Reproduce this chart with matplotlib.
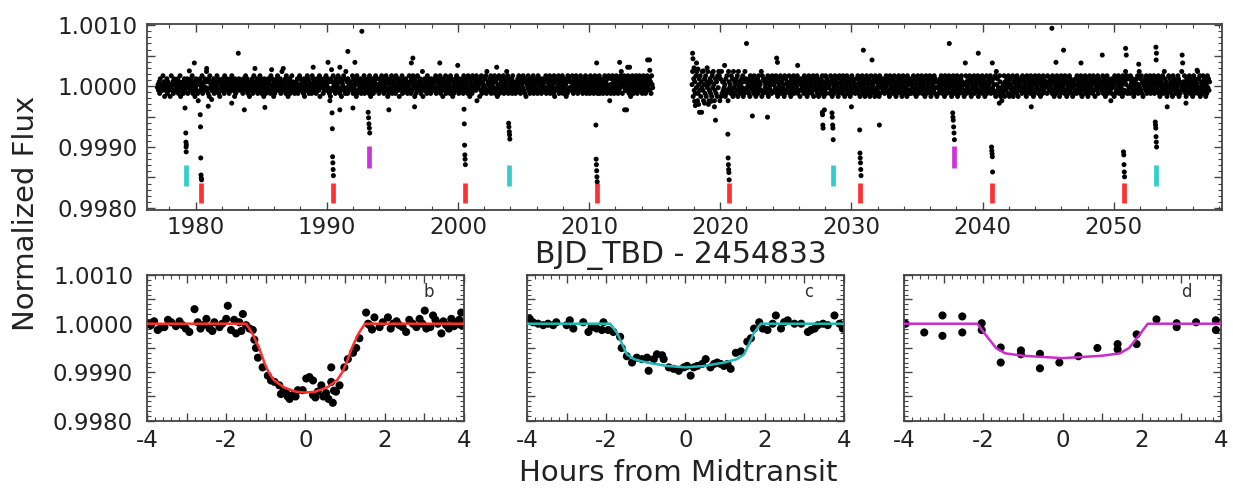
import numpy as np
import matplotlib
matplotlib.use("Agg")
import matplotlib.pyplot as plt
from matplotlib.ticker import MultipleLocator, FuncFormatter

plt.rcParams['font.family'] = ['DejaVu Sans']
plt.rcParams['axes.unicode_minus'] = False

# ---------------- K2 light curve, time in BJD_TBD - 2454833 ----------------
SEG1_SPAN = (1977.10, 2014.85)
SEG2_SPAN = (2017.85, 2057.30)
# flux deviation (relative to 1.0) for each code digit 0..9
CODE_DEV = [-0.00024, -0.00017, -0.00012, -0.00007, -0.000025,
            0.000025, 0.00007, 0.00012, 0.00017, 0.00024]

SEG1_CODES = (
    "45362745538461534726354148356273645537264815346257"
    "36457254634758263514736205573648254376493627184563"
    "54726354837261543675428365743625473856341725463574"
    "63545273648537264156347258364537265483726451736254"
    "47365283745162537486354726935463728451637254836452"
    "35647253847365427163548372654328574635274653817465"
    "52736485374620173648356274538462731654837294627354"
    "64538274635182736457253648275346372851463725648375"
    "45273658437265483716254738264537285463716453827465"
    "37462548362735846172538465372649153746528374652734"
    "56374826354738264517364825374652837416253748365274"
    "43657284736542837165428374653807465173826453748293"
    "65374826537482637154827364538274659382746537284653"
    "24637584726354837261754836275463827546372865437264"
    "57364827365482736452817364758263745826374516283746"
    "36485273648572635487362547386254736285473625847362"
    "45827364527384652738405273846257384627354896275843"
    "63748526317485263748527638465723846527384657362854"
)
SEG2_CODES = (
    "59173628490257381649305728164950372618495037261849"
    "80719263645172830964528371946257381946253748162937"
    "46352718465372846153728465391827364537281645372865"
    "53748261735482637451827365438261754382673548263715"
    "37465283746152837465238174653827146537284615382746"
    "64528371654283765412837654283716548237651428376542"
    "45738264157382645173826457138264537182643751826457"
    "35627485362718453627485316274853627148536274185362"
    "72546382745163827456382746513827465382174653827461"
    "46253748625371846253784625173846253781462537846251"
    "53826475382617453826475381627453826471538264573826"
    "64735281957342861403258164375286147532816437528614"
    "37564283746521837465283746152837645283716452837465"
    "52846374652837164528374615283746528371645283746512"
    "46375283746528317465283746152837465283716453827465"
    "65382746153827465302746518273645827364518273695827"
    "34728564731256473825947382615647382564738265473826"
    "57463825176438259746312584736251847362534871625394"
    "46385217463582746315827463592748163528473615284736"
)

# individually placed cadences: outliers, post-gap settling and in-transit points
extra_time = [
    1979.53, 1979.91, 1980.85, 1983.26, 1984.53, 1985.80, 1986.69, 1988.97, 1990.10,
    1990.37, 1991.00, 1991.61, 1992.15, 1992.68, 1996.57, 1996.45, 1998.62, 1999.99,
    2002.96, 2010.58, 2012.33, 2012.94, 2013.09, 2014.46, 2014.61, 2014.63, 2017.89,
    2018.19, 2020.33, 2022.00, 2024.30, 2024.36, 2025.90, 2030.91, 2031.57, 2037.46,
    2038.68, 2039.67, 2040.74, 2045.28, 2045.59, 2046.17, 2047.50, 2049.12, 2050.90,
    2050.95, 2051.90, 2053.21, 2053.25, 2053.23, 2055.21, 2055.25, 2056.35,
    1979.20, 1980.97, 1981.23, 1982.76, 1983.72, 1985.29, 1991.00, 1992.00, 1994.74,
    1996.70, 2012.71, 2012.86, 2018.42, 2018.58, 2019.56, 2019.64, 2022.45, 2023.60,
    2027.94, 2030.00, 2032.13, 2041.27, 2043.71, 2054.07, 2055.50,
    2017.92, 2018.00, 2018.05, 2018.10, 2018.30, 2018.35, 2018.70, 2018.80, 2019.00,
    2019.10, 2019.30, 2019.40,
    1979.26, 1979.27, 1979.28, 1979.29, 1979.30,
    1980.36, 1980.38, 1980.40, 1980.42, 1980.44, 1980.46,
    1990.41, 1990.43, 1990.45, 1990.47, 1990.49, 1990.51,
    1993.16, 1993.19, 1993.22, 1993.25, 1993.28,
    2000.47, 2000.49, 2000.51, 2000.53, 2000.55, 2000.57,
    2003.87, 2003.89, 2003.92, 2003.94, 2003.96,
    2010.52, 2010.54, 2010.56, 2010.58, 2010.60, 2010.62,
    2020.58, 2020.60, 2020.62, 2020.64, 2020.66, 2020.68,
    2028.52, 2028.54, 2028.57, 2028.59, 2028.61,
    2027.78, 2027.80, 2027.82, 2027.84,
    2030.63, 2030.65, 2030.67, 2030.69, 2030.71, 2030.73,
    2037.72, 2037.74, 2037.76, 2037.79, 2037.82, 2037.85,
    2040.68, 2040.70, 2040.72, 2040.74, 2040.76,
    2050.74, 2050.76, 2050.78, 2050.80, 2050.82,
    2053.16, 2053.18, 2053.20, 2053.22, 2053.24, 2053.26,
]
extra_flux = [
    1.00025, 1.00038, 1.00029, 1.00054, 1.00029, 1.00027, 1.00029, 1.00031, 1.00039,
    1.00027, 1.00031, 1.00057, 1.00039, 1.00090, 1.00046, 1.00038, 1.00038, 1.00034,
    1.00031, 1.00038, 1.00039, 1.00031, 1.00031, 1.00043, 1.00043, 1.00026, 1.00054,
    1.00038, 1.00034, 1.00070, 1.00046, 1.00039, 1.00034, 1.00059, 1.00043, 1.00070,
    1.00038, 1.00054, 1.00038, 1.00095, 1.00039, 1.00059, 1.00038, 1.00051, 1.00062,
    1.00051, 1.00036, 1.00064, 1.00054, 1.00043, 1.00051, 1.00038, 1.00026,
    0.99964, 0.99967, 0.99978, 0.99972, 0.99961, 0.99965, 0.99961, 0.99964, 0.99961,
    0.99966, 0.99961, 0.99961, 0.99957, 0.99957, 0.99966, 0.99944, 0.99951, 0.99949,
    0.99961, 0.99966, 0.99936, 0.99972, 0.99966, 0.99966, 0.99972,
    1.00045, 1.00030, 0.99975, 0.99968, 1.00028, 0.99970, 1.00025, 0.99972, 1.00030,
    0.99970, 0.99975, 1.00022,
    0.99923, 0.99908, 0.99900, 0.99892, 0.99904,
    0.99953, 0.99933, 0.99882, 0.99854, 0.99849, 0.99846,
    0.99956, 0.99930, 0.99884, 0.99874, 0.99863, 0.99853,
    0.99957, 0.99948, 0.99938, 0.99931, 0.99923,
    0.99962, 0.99938, 0.99903, 0.99887, 0.99880, 0.99871,
    0.99939, 0.99933, 0.99925, 0.99920, 0.99913,
    0.99936, 0.99880, 0.99871, 0.99861, 0.99851, 0.99843,
    0.99921, 0.99882, 0.99871, 0.99863, 0.99858, 0.99846,
    0.99956, 0.99949, 0.99936, 0.99931, 0.99912,
    0.99957, 0.99953, 0.99936, 0.99931,
    0.99928, 0.99890, 0.99882, 0.99874, 0.99863, 0.99853,
    0.99956, 0.99949, 0.99944, 0.99933, 0.99923, 0.99912,
    0.99900, 0.99894, 0.99889, 0.99884, 0.99859,
    0.99892, 0.99887, 0.99871, 0.99859, 0.99851,
    0.99941, 0.99936, 0.99931, 0.99917, 0.99908, 0.99900,
]

# transit epochs of planets b, c, d and the flux range of their marker bars
epochs_b = [1980.42, 1990.47, 2000.53, 2010.58, 2020.64, 2030.69, 2040.74, 2050.80]
epochs_c = [1979.28, 2003.92, 2028.57, 2053.21]
epochs_d = [1993.22, 2037.79]
bar_b = (0.99808, 0.99841)
bar_c = (0.99836, 0.99871)
bar_d = (0.99865, 0.99901)

# ---------------- phase-folded transits (hours from midtransit) ----------------
b_hours = [-3.98, -3.90, -3.82, -3.73, -3.65, -3.56, -3.47, -3.39, -3.27, -3.18, -3.10,
           -3.02, -2.93, -2.80, -2.72, -2.65, -2.59, -2.50, -2.42, -2.35, -2.30, -2.17,
           -2.10, -2.00, -1.96, -1.88, -1.80, -1.75, -1.67, -1.62, -1.58, -1.50, -1.41,
           -1.33, -1.29, -1.25, -1.20, -1.08, -0.95, -0.87, -0.78, -0.66, -0.62, -0.55,
           -0.49, -0.45, -0.40, -0.32, -0.25, -0.19, -0.07, 0.02, 0.10, 0.19, 0.19, 0.25,
           0.31, 0.40, 0.45, 0.52, 0.58, 0.65, 0.65, 0.69, 0.72, 0.77, 0.86, 0.98, 1.07,
           1.20, 1.28, 1.36, 1.53, 1.58, 1.62, 1.68, 1.74, 1.87, 1.95, 2.08, 2.15, 2.21,
           2.30, 2.37, 2.45, 2.54, 2.62, 2.71, 2.80, 2.88, 2.95, 3.01, 3.05, 3.15, 3.22,
           3.28, 3.34, 3.43, 3.48, 3.55, 3.62, 3.68, 3.75, 3.80, 3.88, 3.93, 3.93]
b_flux = [1.00000, 0.99997, 1.00005, 0.99987, 0.99992, 0.99993, 1.00008, 1.00003, 0.99995,
          1.00005, 0.99997, 0.99990, 0.99983, 1.00030, 1.00003, 0.99990, 0.99997, 1.00010,
          0.99990, 0.99985, 1.00003, 0.99993, 1.00000, 1.00010, 1.00037, 0.99987, 1.00008,
          0.99980, 1.00003, 0.99985, 1.00020, 0.99997, 0.99990, 0.99987, 0.99967, 0.99950,
          0.99930, 0.99910, 0.99893, 0.99883, 0.99880, 0.99873, 0.99855, 0.99862, 0.99857,
          0.99850, 0.99845, 0.99853, 0.99850, 0.99863, 0.99863, 0.99887, 0.99890, 0.99883,
          0.99853, 0.99848, 0.99860, 0.99873, 0.99850, 0.99857, 0.99845, 0.99910, 0.99880,
          0.99837, 0.99862, 0.99860, 0.99873, 0.99910, 0.99927, 0.99940, 0.99950, 0.99970,
          1.00023, 1.00000, 0.99997, 0.99988, 1.00013, 0.99993, 1.00003, 1.00013, 0.99990,
          1.00000, 1.00005, 0.99997, 0.99993, 0.99983, 1.00008, 1.00000, 0.99993, 1.00010,
          1.00000, 1.00027, 0.99990, 0.99993, 1.00017, 1.00008, 1.00000, 0.99980, 1.00005,
          0.99997, 0.99990, 1.00010, 0.99995, 1.00003, 1.00008, 1.00023, 0.99997]
b_model_hours = [-4.0, -1.50, -1.34, -1.17, -1.03, -0.93, -0.80, -0.55, -0.25, 0.0,
                 0.25, 0.55, 0.80, 0.93, 1.03, 1.17, 1.34, 1.50, 4.0]
b_model_flux = [1.0, 1.0, 0.99980, 0.99950, 0.99918, 0.99900, 0.99884, 0.99869, 0.99860,
                0.99858, 0.99860, 0.99869, 0.99884, 0.99900, 0.99918, 0.99950, 0.99980,
                1.0, 1.0]

c_hours = [-3.93, -3.85, -3.72, -3.59, -3.47, -3.34, -3.26, -3.00, -2.92, -2.83, -2.58,
           -2.45, -2.37, -2.24, -2.11, -2.07, -1.95, -1.82, -1.65, -1.61, -1.48, -1.35,
           -1.23, -1.10, -0.97, -0.93, -0.80, -0.72, -0.59, -0.55, -0.42, -0.30, -0.17,
           -0.04, 0.04, 0.13, 0.21, 0.30, 0.42, 0.51, 0.63, 0.72, 0.80, 0.89, 0.97, 1.06,
           1.14, 1.27, 1.40, 1.56, 1.65, 1.73, 1.86, 1.95, 2.07, 2.20, 2.28, 2.41, 2.49,
           2.58, 2.75, 2.92, 3.09, 3.17, 3.26, 3.34, 3.47, 3.59, 3.76, 3.89, 3.97]
c_flux = [1.00010, 1.00003, 1.00000, 0.99997, 1.00000, 0.99997, 1.00003, 0.99997, 1.00007,
          0.99990, 1.00003, 0.99983, 0.99993, 0.99990, 0.99987, 1.00003, 0.99987, 0.99983,
          0.99973, 0.99950, 0.99933, 0.99920, 0.99930, 0.99927, 0.99930, 0.99903, 0.99927,
          0.99937, 0.99935, 0.99927, 0.99910, 0.99907, 0.99903, 0.99910, 0.99913, 0.99893,
          0.99910, 0.99913, 0.99917, 0.99927, 0.99910, 0.99917, 0.99920, 0.99917, 0.99913,
          0.99917, 0.99907, 0.99940, 0.99943, 0.99963, 0.99970, 0.99990, 1.00003, 0.99990,
          0.99987, 1.00000, 1.00017, 0.99990, 1.00003, 1.00007, 1.00000, 1.00000, 0.99983,
          0.99987, 0.99990, 0.99997, 1.00000, 0.99997, 1.00017, 1.00000, 0.99990]
c_model_hours = [-4.0, -1.90, -1.72, -1.60, -1.48, -1.30, -0.98, -0.47, 0.0,
                 0.47, 0.98, 1.30, 1.48, 1.60, 1.72, 1.90, 4.0]
c_model_flux = [1.0, 1.0, 0.99980, 0.99958, 0.99937, 0.99927, 0.99920, 0.99913, 0.99910,
                0.99913, 0.99920, 0.99927, 0.99937, 0.99958, 0.99980, 1.0, 1.0]

d_hours = [-3.96, -3.49, -3.03, -3.03, -2.53, -2.53, -2.04, -2.04, -1.56, -1.56, -1.05,
           -1.05, -0.57, -0.57, -0.08, 0.40, 0.88, 1.39, 1.39, 1.87, 1.87, 2.37, 2.88,
           2.88, 3.37, 3.87, 3.87]
d_flux = [1.00000, 0.99982, 1.00017, 0.99975, 1.00015, 0.99982, 1.00001, 0.99987, 0.99951,
          0.99920, 0.99945, 0.99937, 0.99938, 0.99908, 0.99920, 0.99933, 0.99950, 0.99958,
          0.99947, 0.99978, 0.99958, 1.00009, 1.00001, 0.99993, 1.00003, 1.00007, 0.99987]
d_model_hours = [-4.0, -2.15, -1.94, -1.68, -1.45, -1.00, 0.0, 1.00, 1.45, 1.68, 1.94,
                 2.15, 4.0]
d_model_flux = [1.0, 1.0, 0.99977, 0.99950, 0.99939, 0.99934, 0.99929, 0.99934, 0.99939,
                0.99950, 0.99977, 1.0, 1.0]

RED = '#ff3030'
CYAN = '#33cccc'
CYAN_LINE = '#22b8b8'
MAGENTA = '#cc33dd'
FRAME = '#444444'
TEXT = '#222222'


def decode(codes, span):
    flux = 1.0 + np.array([CODE_DEV[int(c)] for c in codes])
    time = np.linspace(span[0], span[1], len(flux))
    return time, flux


def style_axes(ax, label_pad):
    for sp in ax.spines.values():
        sp.set_color(FRAME)
        sp.set_linewidth(1.3)
    ax.tick_params(which='both', direction='in', top=True, right=True,
                   color=FRAME, labelcolor=TEXT, labelsize=16.5)
    ax.tick_params(which='major', length=6, width=1.0, pad=label_pad)
    ax.tick_params(which='minor', length=3, width=0.8)


def flux_fmt(v, pos):
    k = v / 0.001
    return f"{v:.4f}" if abs(k - round(k)) < 1e-6 else ""


def hour_fmt(v, pos):
    return f"{int(round(v))}" if abs(v / 2 - round(v / 2)) < 1e-6 else ""


fig = plt.figure(figsize=(12.33, 4.91), dpi=100)

# ---- full light curve ----
ax = fig.add_axes([0.1192, 0.5723, 0.8719, 0.3788])
t1, f1 = decode(SEG1_CODES, SEG1_SPAN)
t2, f2 = decode(SEG2_CODES, SEG2_SPAN)
all_t = np.concatenate([t1, t2, extra_time])
all_f = np.concatenate([f1, f2, extra_flux])
ax.scatter(all_t, all_f, s=13, c='black', edgecolors='none', zorder=3)
ax.vlines(epochs_b, bar_b[0], bar_b[1], color=RED, linewidth=3.4, zorder=2)
ax.vlines(epochs_c, bar_c[0], bar_c[1], color=CYAN, linewidth=3.4, zorder=2)
ax.vlines(epochs_d, bar_d[0], bar_d[1], color=MAGENTA, linewidth=3.4, zorder=2)
ax.set_xlim(1976.3, 2058.25)
ax.set_ylim(0.997965, 1.00102)
ax.xaxis.set_major_locator(MultipleLocator(10))
ax.xaxis.set_minor_locator(MultipleLocator(2))
ax.yaxis.set_major_locator(MultipleLocator(0.0005))
ax.yaxis.set_minor_locator(MultipleLocator(0.0001))
ax.yaxis.set_major_formatter(FuncFormatter(flux_fmt))
style_axes(ax, 4)
ax.tick_params(axis='y', pad=7)

# ---- folded transits ----
panels = [
    (0.1192, b_hours, b_flux, b_model_hours, b_model_flux, RED, 'b', True),
    (0.4274, c_hours, c_flux, c_model_hours, c_model_flux, CYAN_LINE, 'c', False),
    (0.7332, d_hours, d_flux, d_model_hours, d_model_flux, '#cc2ccc', 'd', False),
]
for left, hx, fx, mh, mf, col, letter, show_y in panels:
    a = fig.add_axes([left, 0.1426, 0.2571, 0.2974])
    a.scatter(hx, fx, s=34, c='black', edgecolors='none', zorder=2)
    a.plot(mh, mf, color=col, linewidth=1.8, zorder=3)
    a.set_xlim(-4, 4)
    a.set_ylim(0.997995, 1.001005)
    a.xaxis.set_major_locator(MultipleLocator(1))
    a.xaxis.set_minor_locator(MultipleLocator(0.2))
    a.xaxis.set_major_formatter(FuncFormatter(hour_fmt))
    a.yaxis.set_major_locator(MultipleLocator(0.0005))
    a.yaxis.set_minor_locator(MultipleLocator(0.0001))
    a.yaxis.set_major_formatter(FuncFormatter(flux_fmt))
    style_axes(a, 6)
    a.tick_params(axis='y', pad=10)
    if not show_y:
        a.tick_params(axis='y', labelleft=False)
    a.text(0.89, 0.88, letter, transform=a.transAxes, fontsize=12,
           color='#333333', ha='center', va='center')

fig.text(26 / 1233, 1 - 213 / 491, "Normalized Flux", rotation=90,
         ha='center', va='center', fontsize=21, color=TEXT)
fig.text(681 / 1233, 1 - 256 / 491, "BJD_TBD - 2454833",
         ha='center', va='center', fontsize=21.5, color=TEXT)
fig.text(678 / 1233, 1 - 481 / 491, "Hours from Midtransit",
         ha='center', va='baseline', fontsize=21, color=TEXT)

fig.savefig("out.png", dpi=100)
